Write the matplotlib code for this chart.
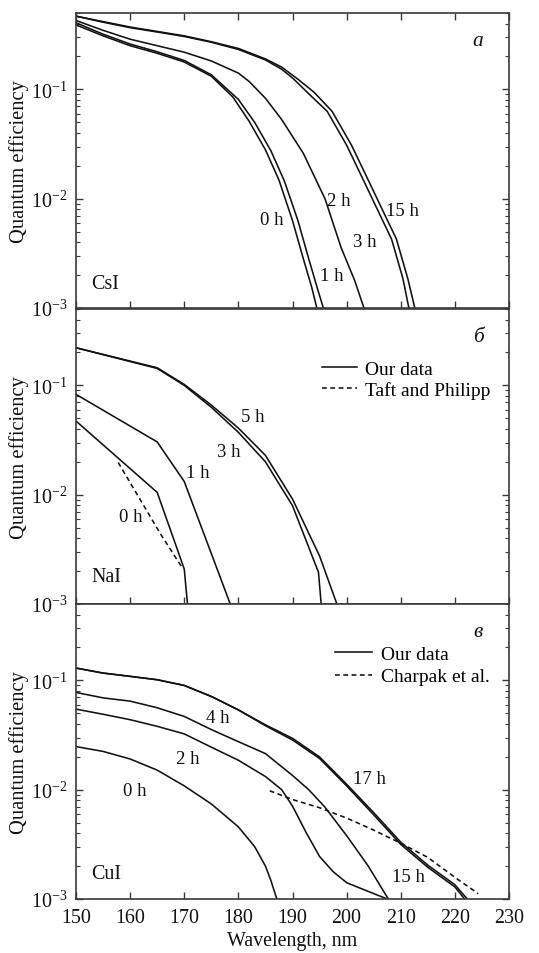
import numpy as np
import matplotlib
matplotlib.use("Agg")
from matplotlib import pyplot as plt

plt.rcParams['font.family'] = ['Liberation Serif', 'DejaVu Serif']
plt.rcParams['mathtext.fontset'] = 'custom'
plt.rcParams['mathtext.rm'] = 'Liberation Serif'
plt.rcParams['mathtext.it'] = 'Liberation Serif:italic'

# ---- a: CsI ----
csi_0h_wl = [150, 155, 160, 165, 170, 175, 179, 182, 185, 187.5, 190, 192, 193.5, 194.5]
csi_0h_q = [0.389, 0.309, 0.251, 0.214, 0.178, 0.132, 0.085, 0.051, 0.028, 0.0148, 0.00631, 0.00282, 0.00158, 0.001]
csi_1h_wl = [150, 155, 160, 165, 170, 175, 180, 183, 186, 188.5, 191, 193, 194.6, 195.7]
csi_1h_q = [0.407, 0.320, 0.260, 0.221, 0.184, 0.136, 0.081, 0.050, 0.0275, 0.0145, 0.00631, 0.00282, 0.00151, 0.001]
csi_2h_wl = [150, 155, 160, 165, 170, 175, 180, 182, 185, 188, 192, 196, 199, 201.5, 203.2]
csi_2h_q = [0.427, 0.347, 0.288, 0.251, 0.219, 0.182, 0.141, 0.118, 0.083, 0.053, 0.026, 0.01, 0.00355, 0.00178, 0.001]
csi_3h_wl = [150, 155, 160, 165, 170, 175, 180, 185, 188, 190.1, 193, 196.4, 200.0, 202.9, 205.6, 208.3, 210.4, 211.5]
csi_3h_q = [0.468, 0.412, 0.367, 0.335, 0.305, 0.270, 0.232, 0.186, 0.153, 0.126, 0.0912, 0.0631, 0.0309, 0.0155, 0.00813, 0.00427, 0.00186, 0.001]
csi_15h_wl = [150, 155, 160, 165, 170, 175, 180, 185, 188, 191, 194, 197.3, 200.9, 203.8, 206.5, 209.2, 211.3, 212.6]
csi_15h_q = [0.468, 0.417, 0.372, 0.339, 0.309, 0.273, 0.237, 0.190, 0.160, 0.124, 0.094, 0.0631, 0.0309, 0.0155, 0.00813, 0.00427, 0.00186, 0.001]

# ---- б: NaI ----
nai_0h_wl = [150, 165, 170, 170.6]
nai_0h_q = [0.0472, 0.0105, 0.00209, 0.001]
nai_1h_wl = [150, 165, 170, 178.5]
nai_1h_q = [0.0828, 0.0304, 0.0132, 0.001]
nai_3h_wl = [150, 165, 170, 175, 180, 185, 190, 194.8, 195.3]
nai_3h_q = [0.221, 0.143, 0.100, 0.0631, 0.0372, 0.0200, 0.00794, 0.00195, 0.001]
nai_5h_wl = [150, 165, 170, 175, 180, 185, 190, 195, 198.2]
nai_5h_q = [0.221, 0.145, 0.102, 0.0661, 0.0407, 0.0229, 0.00912, 0.00275, 0.001]
taft_wl = [157.8, 161.8, 165.5, 168.6, 169.8]
taft_q = [0.0197, 0.00912, 0.00447, 0.00257, 0.00209]

# ---- в: CuI ----
cui_0h_wl = [150, 155, 160, 165, 170, 175, 180, 183, 185, 186, 187.1]
cui_0h_q = [0.0248, 0.0224, 0.0191, 0.0151, 0.01084, 0.00741, 0.00457, 0.00302, 0.002, 0.00148, 0.001]
cui_2h_wl = [150, 155, 160, 165, 170, 175, 180, 185, 188, 190, 192.5, 195, 197.5, 200, 203.5, 207.5]
cui_2h_q = [0.0546, 0.0490, 0.0437, 0.0380, 0.0324, 0.0245, 0.0186, 0.0132, 0.01, 0.00708, 0.00407, 0.00245, 0.00178, 0.00141, 0.0012, 0.001]
cui_4h_wl = [150, 155, 160, 165, 170, 175, 180, 185, 190, 193, 196, 200, 204, 207.7]
cui_4h_q = [0.0776, 0.0692, 0.0646, 0.0562, 0.0468, 0.0355, 0.0275, 0.0214, 0.0135, 0.01, 0.00692, 0.0038, 0.002, 0.001]
cui_17h_wl = [150, 155, 160, 165, 170, 175, 180, 185, 190, 195, 200, 205, 210, 215, 220, 222.3]
cui_17h_q = [0.1297, 0.1167, 0.1089, 0.1014, 0.0899, 0.0713, 0.0537, 0.0392, 0.0295, 0.01995, 0.01122, 0.00617, 0.00331, 0.00204, 0.00135, 0.001]
cui_15h_wl = [150, 155, 160, 165, 170, 175, 180, 185, 190, 195, 200, 205, 210, 215, 220, 221.8]
cui_15h_q = [0.1297, 0.1167, 0.1089, 0.1014, 0.0899, 0.0713, 0.0537, 0.0385, 0.0285, 0.0193, 0.01084, 0.00589, 0.00316, 0.00195, 0.00129, 0.001]
charpak_wl = [185.8, 190, 195, 200, 205, 210, 215, 220, 224.3]
charpak_q = [0.00977, 0.00813, 0.00684, 0.0055, 0.00427, 0.00324, 0.0024, 0.00158, 0.00112]

xticks = [150, 160, 170, 180, 190, 200, 210, 220, 230]

ink = '#111111'
frame = '#3a3a3a'
lw = 1.15
fs = 14.4

fig = plt.figure(figsize=(5.39, 9.54), dpi=100)
left, width = 76 / 539, 433 / 539
ph = 295 / 954
bottoms = [1 - 309 / 954, 1 - 605 / 954, 1 - 900 / 954]
axs = [fig.add_axes([left, b, width, ph]) for b in bottoms]

for i, ax in enumerate(axs):
    ax.set_yscale('log')
    ax.set_xlim(150, 230)
    ax.set_ylim(1e-3, 0.5)
    ax.set_xticks(xticks)
    ax.tick_params(which='both', direction='in', right=True, top=(i == 0),
                   colors=frame, labelcolor=ink, labelsize=fs, pad=6.5)
    ax.tick_params(which='major', length=5, width=1.0)
    ax.tick_params(which='minor', length=3, width=0.8)
    for s in ax.spines.values():
        s.set_color(frame)
        s.set_linewidth(1.2)
    ax.set_ylabel('Quantum efficiency', fontsize=14.8, color=ink, labelpad=1)
    if i < 2:
        ax.tick_params(labelbottom=False)

# panel a
ax = axs[0]
for wl, q in [(csi_0h_wl, csi_0h_q), (csi_1h_wl, csi_1h_q), (csi_2h_wl, csi_2h_q),
              (csi_3h_wl, csi_3h_q), (csi_15h_wl, csi_15h_q)]:
    ax.plot(wl, q, color=ink, lw=lw)
lab = dict(fontsize=13.5, color=ink, ha='center', va='center')
ax.text(186.1, 0.00652, '0 h', **lab)
ax.text(197.2, 0.0020, '1 h', **lab)
ax.text(198.5, 0.00953, '2 h', **lab)
ax.text(203.4, 0.0041, '3 h', **lab)
ax.text(210.4, 0.00772, '15 h', **lab)
ax.text(152.8, 0.00166, 'CsI', fontsize=fs, color=ink, ha='left', va='center')
ax.text(224.3, 0.283, 'a', fontsize=fs + 1, color=ink, ha='center', va='center', style='italic')

# panel б
ax = axs[1]
l1, = ax.plot(nai_0h_wl, nai_0h_q, color=ink, lw=lw)
for wl, q in [(nai_1h_wl, nai_1h_q), (nai_3h_wl, nai_3h_q), (nai_5h_wl, nai_5h_q)]:
    ax.plot(wl, q, color=ink, lw=lw)
l2, = ax.plot(taft_wl, taft_q, color=ink, lw=lw, ls=(0, (3.0, 2.2)))
ax.text(182.6, 0.0514, '5 h', **lab)
ax.text(178.3, 0.0251, '3 h', **lab)
ax.text(172.5, 0.0161, '1 h', **lab)
ax.text(160.1, 0.00638, '0 h', **lab)
ax.text(152.8, 0.00177, 'NaI', fontsize=fs, color=ink, ha='left', va='center')
ax.text(224.3, 0.283, 'б', fontsize=fs + 1, color=ink, ha='center', va='center', style='italic')
ax.legend([l1, l2], ['Our data', 'Taft and Philipp'], loc='upper left',
          bbox_to_anchor=(0.568, 0.826), frameon=False, fontsize=14,
          borderaxespad=0, borderpad=0, handlelength=1.8, handletextpad=0.4,
          labelspacing=0.15)

# panel в
ax = axs[2]
l1, = ax.plot(cui_0h_wl, cui_0h_q, color=ink, lw=lw)
for wl, q in [(cui_2h_wl, cui_2h_q), (cui_4h_wl, cui_4h_q),
              (cui_15h_wl, cui_15h_q), (cui_17h_wl, cui_17h_q)]:
    ax.plot(wl, q, color=ink, lw=lw)
l2, = ax.plot(charpak_wl, charpak_q, color=ink, lw=lw, ls=(0, (3.0, 2.2)))
ax.text(176.1, 0.0462, '4 h', **lab)
ax.text(170.6, 0.0191, '2 h', **lab)
ax.text(160.9, 0.00973, '0 h', **lab)
ax.text(204.3, 0.01253, '17 h', **lab)
ax.text(211.5, 0.00162, '15 h', **lab)
ax.text(152.8, 0.0017, 'CuI', fontsize=fs, color=ink, ha='left', va='center')
ax.text(224.3, 0.283, 'в', fontsize=fs + 1, color=ink, ha='center', va='center', style='italic')
ax.legend([l1, l2], ['Our data', 'Charpak et al.'], loc='upper left',
          bbox_to_anchor=(0.598, 0.86), frameon=False, fontsize=14,
          borderaxespad=0, borderpad=0, handlelength=1.9, handletextpad=0.45,
          labelspacing=0.25)
ax.set_xlabel('Wavelength, nm', fontsize=fs, color=ink, labelpad=3)

fig.savefig('out.png', dpi=100)
